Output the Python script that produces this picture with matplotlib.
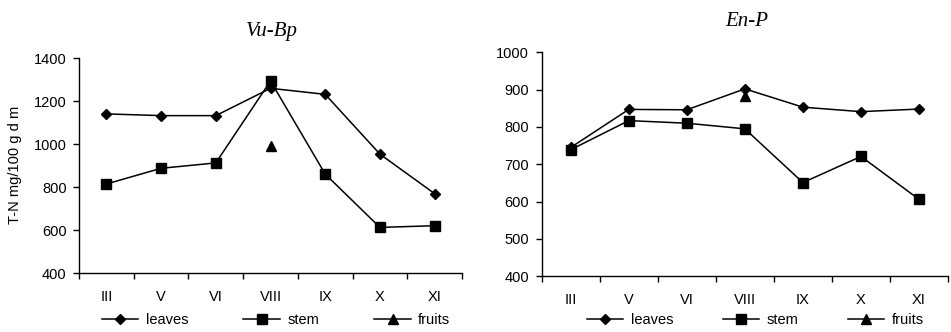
import numpy as np
import matplotlib
matplotlib.use("Agg")
import matplotlib.pyplot as plt

plt.rcParams['font.family'] = ['Liberation Sans', 'DejaVu Sans']

# months (roman numerals)
months = ['III', 'V', 'VI', 'VIII', 'IX', 'X', 'XI']

# Vu-Bp
vu_leaves = [1140, 1132, 1132, 1259, 1231, 953, 769]
vu_stem = [814, 887, 912, 1293, 860, 612, 620]
vu_fruits = [None, None, None, 992, None, None, None]

# En-P
en_leaves = [745, 847, 846, 902, 853, 841, 848]
en_stem = [739, 817, 810, 795, 651, 721, 606]
en_fruits = [None, None, None, 884, None, None, None]

FS = 10.5

fig = plt.figure(figsize=(9.51, 3.32), dpi=100)

ax1 = fig.add_axes([0.0831, 0.1777, 0.4027, 0.6476])
ax2 = fig.add_axes([0.5696, 0.1678, 0.4273, 0.6747])


def to_arr(v):
    return np.array([np.nan if a is None else a for a in v], dtype=float)


def draw(ax, leaves, stem, fruits, yticks, legend_x, colsp):
    x = np.arange(len(months))
    ax.plot(x, leaves, color='black', lw=1.1, marker='D', ms=5.5, label='leaves')
    ax.plot(x, stem, color='black', lw=1.1, marker='s', ms=6.5, label='stem')
    ax.plot(x, to_arr(fruits), color='black', lw=1.1, marker='^', ms=6.5, label='fruits')

    ax.set_xlim(-0.5, len(months) - 0.5)
    ax.set_ylim(yticks[0], yticks[-1])
    ax.set_yticks(yticks)
    ax.set_xticks(x)
    ax.set_xticklabels(months)
    ax.set_xticks(np.arange(-0.5, len(months)), minor=True)
    ax.tick_params(axis='x', which='major', length=0, pad=12, labelsize=FS)
    ax.tick_params(axis='x', which='minor', length=4, width=1, direction='out')
    ax.tick_params(axis='y', length=4, width=1, direction='out', pad=5, labelsize=FS)

    for s in ['top', 'right']:
        ax.spines[s].set_visible(False)
    for s in ['left', 'bottom']:
        ax.spines[s].set_linewidth(1)

    ax.legend(loc='center left', bbox_to_anchor=(legend_x, 0.035),
              bbox_transform=fig.transFigure, ncol=3, frameon=False,
              fontsize=FS, handlelength=2.5, handletextpad=0.5,
              columnspacing=colsp, borderaxespad=0, borderpad=0)


draw(ax1, vu_leaves, vu_stem, vu_fruits, [400, 600, 800, 1000, 1200, 1400], 0.107, 3.8)
draw(ax2, en_leaves, en_stem, en_fruits, [400, 500, 600, 700, 800, 900, 1000], 0.617, 3.4)

fig.text(0.286, 0.904, 'Vu-Bp', family='Liberation Serif', style='italic',
         fontsize=15, ha='center', va='center')
fig.text(0.7855, 0.934, 'En-P', family='Liberation Serif', style='italic',
         fontsize=15, ha='center', va='center')
fig.text(0.016, 0.503, 'T-N mg/100 g d m', rotation=90, fontsize=FS,
         ha='center', va='center')

fig.savefig('out.png', dpi=100)
